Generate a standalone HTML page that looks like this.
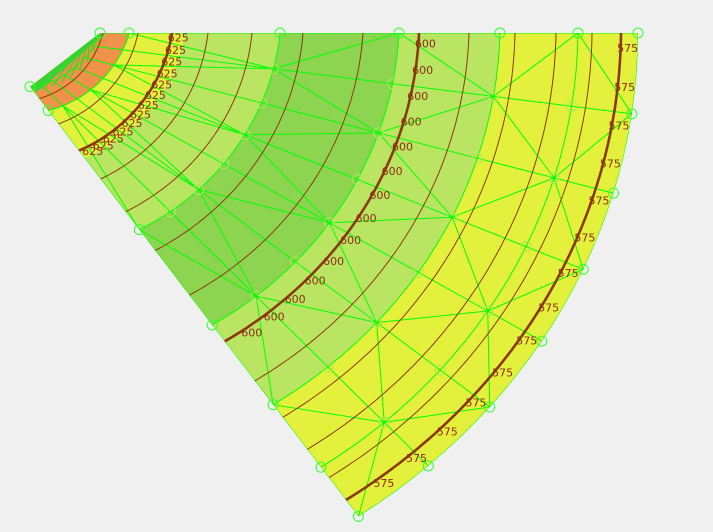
<!DOCTYPE html>
<html><head><meta charset="utf-8"><style>
html,body{margin:0;padding:0;background:#f0f0f0;}
svg{display:block;}
</style></head><body>
<svg id="chart" width="713" height="532" viewBox="0 0 713 532" xmlns="http://www.w3.org/2000/svg">
<defs><clipPath id="clip"><polygon id="clipPoly" points=""/></clipPath></defs>
<rect width="713" height="532" fill="#f0f0f0"/>
<g id="bands" clip-path="url(#clip)"></g>
<g id="mesh" clip-path="url(#clip)"></g>
<g id="contours" clip-path="url(#clip)"></g>
<g id="nodes"></g>
<g id="labels"></g>
</svg>
<script>
// contour data
const levels = [635,630,625,620,615,610,605,600,595,590,585,580,575];
const rTop  = [114,149,183,219,263,314,374,430,480,526,567,603,632];
const rLeft = [88,122,158,196,240,292,352,414,467,516,559,597,627];
const labeledLevels = [625,600,575];
const labelCounts = [13,14,14];
// colour band boundaries (outer radius at top edge / left edge)
const bandColors = ["#f0924a","#e3f03c","#bae562","#8dd551","#bae562","#e3f03c"];
const bandTop  = [141,196,291,410,511,700];
const bandLeft = [104,168,264,392,499,700];
// mesh rows (node radii at top / left edge)
const meshTop  = [111,140,291,410,511,589,649];
const meshLeft = [72,104,264,392,499,583,649];

const NS="http://www.w3.org/2000/svg";
const CX=-11, CY=33, SY=0.906, TMAX=55.3*Math.PI/180, NCOL=7;
function P(r,t){return [CX+r*Math.cos(t), CY+SY*r*Math.sin(t)];}
function rAt(r0,r1,t){return r0+(r1-r0)*(t/TMAX);}
function mk(tag,attrs,parent){const e=document.createElementNS(NS,tag);for(const k in attrs)e.setAttribute(k,attrs[k]);parent.appendChild(e);return e;}
function curve(r0,r1,n){const pts=[];for(let i=0;i<=n;i++){const t=TMAX*i/n;pts.push(P(rAt(r0,r1,t),t));}return pts;}
const fmt=p=>p.map(q=>q[0].toFixed(1)+","+q[1].toFixed(1)).join(" ");

// boundary
const outer=[];for(let j=0;j<=28;j++){const t=TMAX*j/28;outer.push(P(649,t));}
const boundary=[P(meshTop[0],0)].concat(outer).concat([P(meshLeft[0],TMAX)]);
document.getElementById('clipPoly').setAttribute('points',fmt(boundary));

// bands
const bandsG=document.getElementById('bands');
for(let b=bandColors.length-1;b>=0;b--){
  const pts=[[CX,CY]].concat(curve(bandTop[b],bandLeft[b],60));
  const e=mk('polygon',{points:fmt(pts),fill:bandColors[b]},bandsG);
  
  
}
const fan=mk('polygon',{points:"100,33 30,87 37,92 102,36",fill:"#3fcf3a"},bandsG);



// mesh
const meshG=document.getElementById('mesh');
const node=(i,j)=>{const t=TMAX*j/NCOL;return P(rAt(meshTop[i],meshLeft[i],t),t);};
for(let i=0;i<meshTop.length;i++){
  const pts=[];for(let j=0;j<=NCOL*4;j++){const t=TMAX*j/(NCOL*4);pts.push(P(rAt(meshTop[i],meshLeft[i],t),t));}
  const e=mk('polyline',{points:fmt(pts),fill:"none",stroke:"#00ff00","stroke-width":1},meshG);
  
  
}
for(let j=0;j<=NCOL;j++){
  const pts=[];for(let i=0;i<meshTop.length;i++)pts.push(node(i,j));
  const e=mk('polyline',{points:fmt(pts),fill:"none",stroke:"#00ff00","stroke-width":1},meshG);
  
  
}
for(let i=1;i<meshTop.length-1;i++)for(let j=0;j<NCOL;j++){
  const a=(i+j)%2?node(i,j):node(i,j+1), b=(i+j)%2?node(i+1,j+1):node(i+1,j);
  const e=mk('line',{x1:a[0],y1:a[1],x2:b[0],y2:b[1],stroke:"#00ff00","stroke-width":1},meshG);
  
  
}
for(let k=0;k<10;k++){
  const t=TMAX*k/9;
  const a=P(101,0), b=P(rAt(meshTop[0],meshLeft[0],t)+6,t);
  const e=mk('line',{x1:a[0],y1:a[1],x2:b[0],y2:b[1],stroke:"#22dd22","stroke-width":1},meshG);
  
  
}

// contours
const cG=document.getElementById('contours');
levels.forEach((lv,k)=>{
  const thick=labeledLevels.includes(lv);
  const e=mk('polyline',{points:fmt(curve(rTop[k],rLeft[k],80)),fill:"none",stroke:"#8b3a0e","stroke-width":thick?2.6:1},cG);
  
  
});

// nodes
const nG=document.getElementById('nodes');
for(let i=0;i<meshTop.length;i++)for(let j=0;j<=NCOL;j++){
  const onB=(j===0||j===NCOL||i===meshTop.length-1);
  if(!onB && i<2) continue;
  const p=node(i,j);
  const e=mk('circle',{cx:p[0],cy:p[1],r:5,fill:"none",stroke:onB?"#33ff33":"#a8e85a","stroke-width":1},nG);
  
  
}

// labels
const lG=document.getElementById('labels');
labeledLevels.forEach((lv,m)=>{
  const k=levels.indexOf(lv);
  const n=labelCounts[m];
  for(let q=0;q<n;q++){
    const t=(1.5+q*(50/(n-1)))*Math.PI/180;
    const p=P(rAt(rTop[k],rLeft[k],t)+7,t);
    const e=mk('text',{x:p[0].toFixed(1),y:(p[1]+4).toFixed(1),"text-anchor":"middle","font-family":"DejaVu Sans, Liberation Sans, sans-serif","font-size":"11",fill:"#8b2f10"},lG);
    e.textContent=String(lv);
    
    
  }
});
</script>
</body></html>
